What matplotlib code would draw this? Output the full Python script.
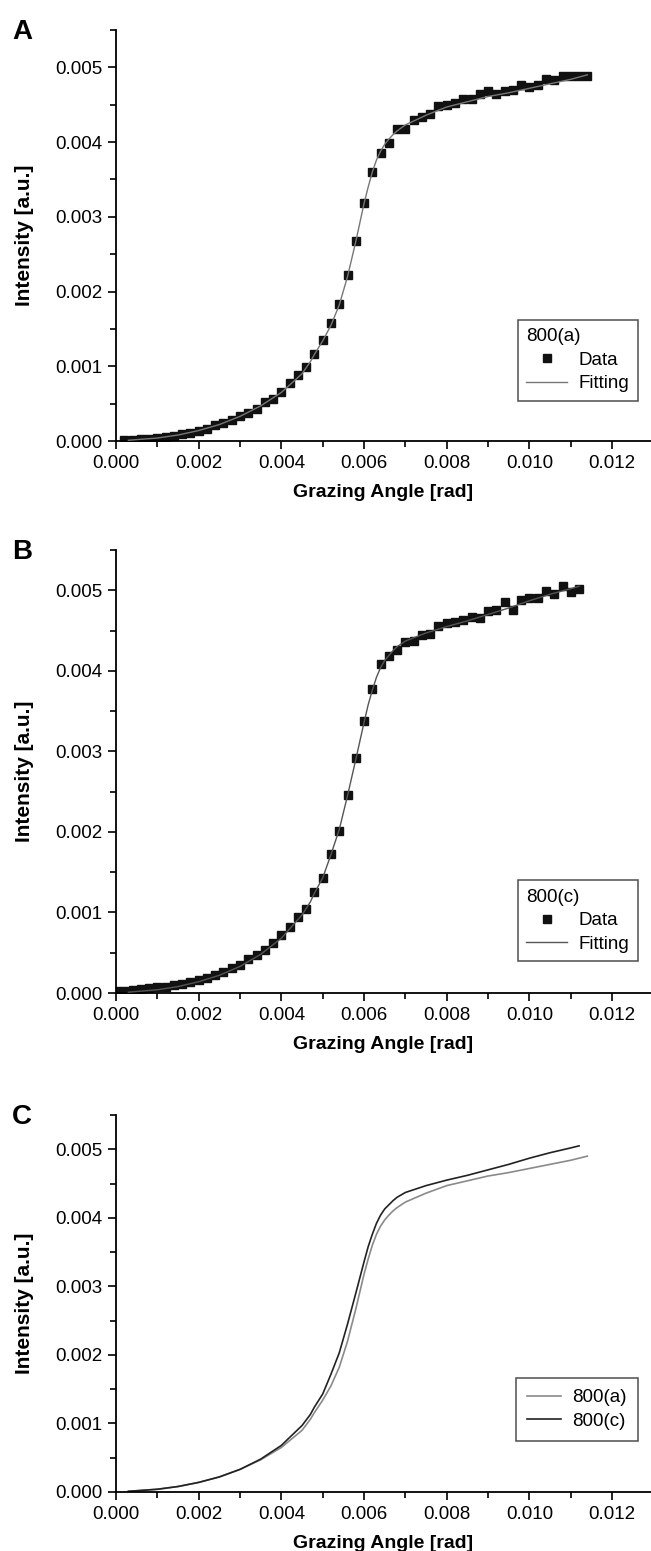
import numpy as np
import matplotlib
matplotlib.use('Agg')
import matplotlib.pyplot as plt
from matplotlib.ticker import MultipleLocator, FormatStrFormatter

plt.rcParams['font.family'] = ['Liberation Sans', 'DejaVu Sans']
plt.rcParams['font.size'] = 13

# panel A data, 800(a)
xa = [0.0002, 0.0004, 0.0006, 0.0008, 0.0010, 0.0012, 0.0014, 0.0016, 0.0018, 0.0020,
      0.0022, 0.0024, 0.0026, 0.0028, 0.0030, 0.0032, 0.0034, 0.0036, 0.0038, 0.0040,
      0.0042, 0.0044, 0.0046, 0.0048, 0.0050, 0.0052, 0.0054, 0.0056, 0.0058, 0.0060,
      0.0062, 0.0064, 0.0066, 0.0068, 0.0070, 0.0072, 0.0074, 0.0076, 0.0078, 0.0080,
      0.0082, 0.0084, 0.0086, 0.0088, 0.0090, 0.0092, 0.0094, 0.0096, 0.0098, 0.0100,
      0.0102, 0.0104, 0.0106, 0.0108, 0.0110, 0.0112, 0.0114]
ya = [0.00002, 0.00002, 0.00003, 0.00003, 0.00004, 0.00005, 0.00007, 0.00009, 0.00011, 0.00014,
      0.00016, 0.00021, 0.00024, 0.00028, 0.00033, 0.00038, 0.00043, 0.00052, 0.00056, 0.00066,
      0.00077, 0.00088, 0.00099, 0.00117, 0.00135, 0.00158, 0.00184, 0.00222, 0.00268, 0.00318,
      0.00360, 0.00386, 0.00399, 0.00418, 0.00417, 0.00430, 0.00433, 0.00438, 0.00448, 0.00450,
      0.00452, 0.00458, 0.00458, 0.00464, 0.00468, 0.00465, 0.00469, 0.00470, 0.00476, 0.00474,
      0.00477, 0.00485, 0.00483, 0.00488, 0.00488, 0.00489, 0.00489]

# panel B data, 800(c)
xc = [0.0000, 0.0002, 0.0004, 0.0006, 0.0008, 0.0010, 0.0012, 0.0014, 0.0016, 0.0018,
      0.0020, 0.0022, 0.0024, 0.0026, 0.0028, 0.0030, 0.0032, 0.0034, 0.0036, 0.0038,
      0.0040, 0.0042, 0.0044, 0.0046, 0.0048, 0.0050, 0.0052, 0.0054, 0.0056, 0.0058,
      0.0060, 0.0062, 0.0064, 0.0066, 0.0068, 0.0070, 0.0072, 0.0074, 0.0076, 0.0078,
      0.0080, 0.0082, 0.0084, 0.0086, 0.0088, 0.0090, 0.0092, 0.0094, 0.0096, 0.0098,
      0.0100, 0.0102, 0.0104, 0.0106, 0.0108, 0.0110, 0.0112]
yc = [0.00003, 0.00003, 0.00004, 0.00005, 0.00006, 0.00007, 0.00008, 0.00010, 0.00011, 0.00014,
      0.00016, 0.00019, 0.00022, 0.00026, 0.00031, 0.00035, 0.00042, 0.00047, 0.00054, 0.00062,
      0.00072, 0.00082, 0.00094, 0.00104, 0.00125, 0.00143, 0.00173, 0.00201, 0.00246, 0.00292,
      0.00338, 0.00377, 0.00408, 0.00418, 0.00426, 0.00436, 0.00437, 0.00444, 0.00446, 0.00456,
      0.00459, 0.00461, 0.00463, 0.00467, 0.00466, 0.00474, 0.00476, 0.00485, 0.00476, 0.00488,
      0.00490, 0.00491, 0.00499, 0.00495, 0.00505, 0.00498, 0.00501]

# fitted curves (also compared in panel C)
fit_a_x = [0.0003, 0.0010, 0.0015, 0.0020, 0.0025, 0.0030, 0.0035, 0.0040, 0.0045, 0.0047,
           0.0048, 0.0050, 0.0052, 0.0054, 0.0056, 0.0058, 0.0060, 0.0061, 0.0062, 0.0063,
           0.0064, 0.0065, 0.0066, 0.0067, 0.0068, 0.0070, 0.0075, 0.0080, 0.0085, 0.0090,
           0.0095, 0.0100, 0.0105, 0.0110, 0.0114]
fit_a_y = [0.00001, 0.00004, 0.00008, 0.00014, 0.00022, 0.00033, 0.00047, 0.00065, 0.00090, 0.00106,
           0.00116, 0.00134, 0.00155, 0.00182, 0.00220, 0.00267, 0.00318, 0.00340, 0.00360, 0.00376,
           0.00388, 0.00397, 0.00404, 0.00410, 0.00415, 0.00423, 0.00436, 0.00447, 0.00454, 0.00461,
           0.00466, 0.00472, 0.00478, 0.00484, 0.00490]
fit_c_x = [0.0003, 0.0010, 0.0015, 0.0020, 0.0025, 0.0030, 0.0035, 0.0040, 0.0045, 0.0047,
           0.0048, 0.0050, 0.0052, 0.0054, 0.0056, 0.0058, 0.0060, 0.0061, 0.0062, 0.0063,
           0.0064, 0.0065, 0.0066, 0.0067, 0.0068, 0.0070, 0.0075, 0.0080, 0.0085, 0.0090,
           0.0095, 0.0100, 0.0105, 0.0110, 0.0112]
fit_c_y = [0.00001, 0.00004, 0.00008, 0.00014, 0.00022, 0.00033, 0.00048, 0.00068, 0.00097, 0.00113,
           0.00124, 0.00143, 0.00172, 0.00203, 0.00245, 0.00290, 0.00336, 0.00358, 0.00376, 0.00392,
           0.00404, 0.00413, 0.00419, 0.00425, 0.00430, 0.00437, 0.00447, 0.00455, 0.00462, 0.00470,
           0.00478, 0.00487, 0.00495, 0.00502, 0.00505]

W, H = 651, 1551
fig = plt.figure(figsize=(W / 100, H / 100), dpi=100)

left = 116 / W
width = 1 - left
# (top px, bottom px) of each panel
panels = [(30, 441), (550, 993), (1115, 1492)]
letters = ['A', 'B', 'C']

axes = []
for (t, b), let in zip(panels, letters):
    ax = fig.add_axes([left, 1 - b / H, width, (b - t) / H])
    ax.set_xlim(0, 0.01294)
    ax.set_ylim(0, 0.0055)
    ax.spines['top'].set_visible(False)
    ax.spines['right'].set_visible(False)
    ax.spines['left'].set_linewidth(1.3)
    ax.spines['bottom'].set_linewidth(1.3)
    ax.xaxis.set_major_locator(MultipleLocator(0.002))
    ax.xaxis.set_minor_locator(MultipleLocator(0.001))
    ax.yaxis.set_major_locator(MultipleLocator(0.001))
    ax.yaxis.set_minor_locator(MultipleLocator(0.0005))
    ax.xaxis.set_major_formatter(FormatStrFormatter('%.3f'))
    ax.yaxis.set_major_formatter(FormatStrFormatter('%.3f'))
    ax.tick_params(which='major', direction='out', length=6, width=1.2, labelsize=13.5, pad=4)
    ax.tick_params(which='minor', direction='out', length=4, width=1.2)
    ax.set_xlabel('Grazing Angle [rad]', fontsize=14, fontweight='bold', labelpad=9)
    ax.set_ylabel('Intensity [a.u.]', fontsize=15, fontweight='bold', labelpad=15)
    fig.text(12 / W, 1 - (t + 2) / H, let, fontsize=20, fontweight='bold', va='center', ha='left')
    axes.append(ax)

axA, axB, axC = axes

leg_kw = dict(loc='lower right', frameon=True, fancybox=False, edgecolor='#222222',
              fontsize=13.5, title_fontsize=13.5, handlelength=2.2, borderpad=0.45,
              labelspacing=0.35, handletextpad=0.6)

axA.plot(fit_a_x, fit_a_y, color='#777777', lw=1.0, label='Fitting', zorder=3)
axA.plot(xa, ya, 's', color='#111111', ms=6.2, label='Data', zorder=2)
hA, lA = axA.get_legend_handles_labels()
legA = axA.legend([hA[1], hA[0]], [lA[1], lA[0]], title='800(a)',
                  bbox_to_anchor=(0.993, 0.075), **leg_kw)
legA._legend_box.align = 'left'
legA.get_frame().set_linewidth(1.1)

axB.plot(fit_c_x, fit_c_y, color='#555555', lw=1.0, label='Fitting', zorder=3)
axB.plot(xc, yc, 's', color='#111111', ms=6.2, label='Data', zorder=2)
hB, lB = axB.get_legend_handles_labels()
legB = axB.legend([hB[1], hB[0]], [lB[1], lB[0]], title='800(c)',
                  bbox_to_anchor=(0.993, 0.05), **leg_kw)
legB._legend_box.align = 'left'
legB.get_frame().set_linewidth(1.1)

axC.plot(fit_a_x, fit_a_y, color='#8a8a8a', lw=1.2, label='800(a)')
axC.plot(fit_c_x, fit_c_y, color='#222222', lw=1.2, label='800(c)')
kwC = dict(leg_kw)
kwC['borderpad'] = 0.6
kwC['handlelength'] = 1.8
legC = axC.legend(bbox_to_anchor=(0.993, 0.11), **kwC)
legC.get_frame().set_linewidth(1.1)

fig.savefig('out.png', dpi=100)
